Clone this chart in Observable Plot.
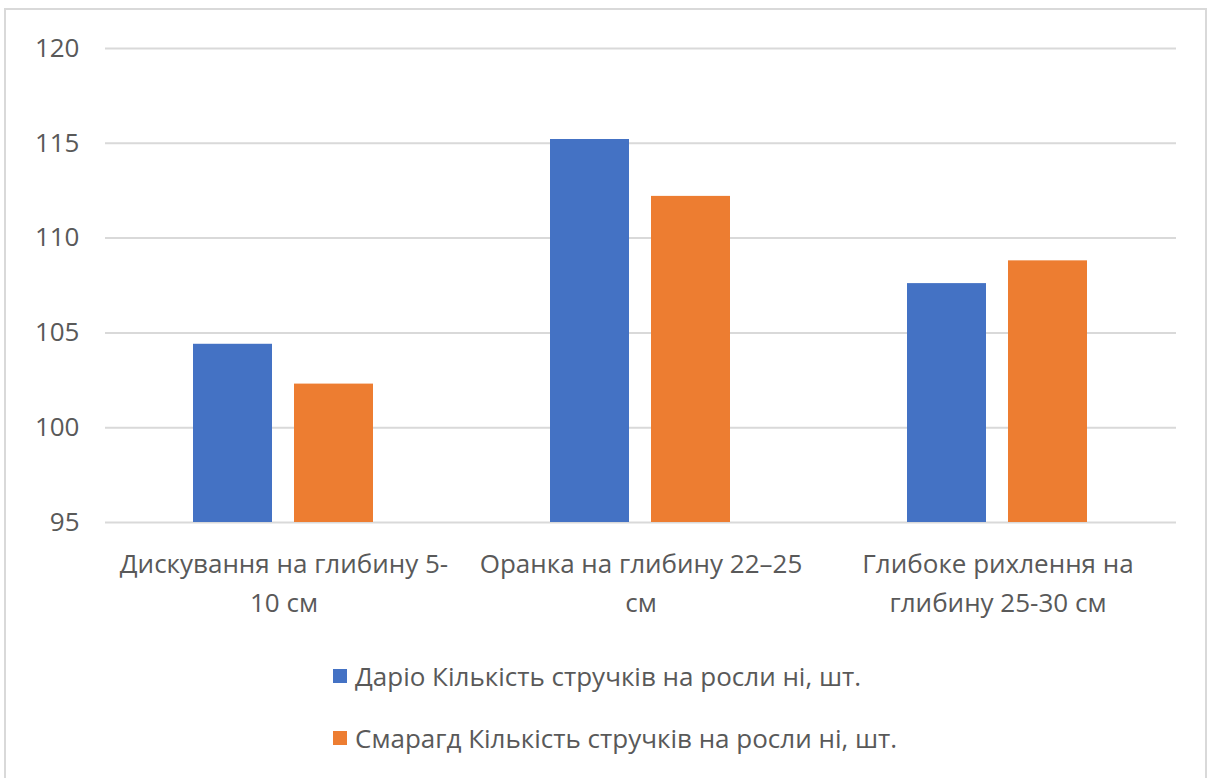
<!DOCTYPE html>
<html>
<head>
<meta charset="utf-8">
<script src="https://cdn.jsdelivr.net/npm/d3@7"></script>
<script src="https://cdn.jsdelivr.net/npm/@observablehq/plot@0.6"></script>
<style>
  html, body { margin: 0; padding: 0; background: #fff; }
  body { width: 1216px; height: 778px; position: relative; overflow: hidden; font-family: "Open Sans", sans-serif; color: #595959; }
  #frame { position: absolute; left: 4px; top: 8px; width: 1203px; height: 780px; border: 2px solid #d9d9d9; box-sizing: border-box; }
  #chart { position: absolute; left: 0; top: 0; }
  #legend { position: absolute; left: 333px; top: 650px; font-size: 26px; }
  .item { display: flex; align-items: center; height: 52px; margin-bottom: 10px; white-space: nowrap; }
  .sw { width: 14px; height: 14px; margin-right: 8px; flex: none; }
</style>
</head>
<body>
<div id="frame"></div>
<div id="chart"></div>
<div id="legend"></div>
<script>
const categories = ["Дискування на глибину 5-10 см", "Оранка на глибину 22–25 см", "Глибоке рихлення на глибину 25-30 см"];
const categoryLabels = ["Дискування на глибину 5-\n10 см", "Оранка на глибину 22–25\nсм", "Глибоке рихлення на\nглибину 25-30 см"];
const seriesNames = ["Даріо Кількість стручків на росли ні, шт.", "Смарагд Кількість стручків на росли ні, шт."];
const dario = [104.4, 115.2, 107.6];
const smaragd = [102.3, 112.2, 108.8];
const yTicks = [95, 100, 105, 110, 115, 120];
const colors = ["#4472C4", "#ED7D31"];

const data = [];
categories.forEach((c, i) => {
  data.push({category: c, series: seriesNames[0], value: dario[i]});
  data.push({category: c, series: seriesNames[1], value: smaragd[i]});
});

const chart = Plot.plot({
  width: 1216,
  height: 640,
  marginTop: 48,
  marginBottom: 118,
  marginLeft: 104,
  marginRight: 40,
  style: {fontFamily: "Open Sans, sans-serif", fontSize: "26px", color: "#595959", background: "transparent"},
  fx: {domain: categories, padding: 0, axis: null},
  x: {domain: seriesNames, paddingInner: 0.2157, paddingOuter: 0.859, axis: null},
  y: {domain: [95, 120], ticks: yTicks, label: null},
  color: {domain: seriesNames, range: colors},
  marks: [
    Plot.ruleY(yTicks, {stroke: "#d9d9d9", strokeWidth: 2}),
    Plot.axisY({ticks: yTicks, tickSize: 0, tickPadding: 26, label: null, fill: "#595959", fontSize: 26}),
    Plot.barY(data, {fx: "category", x: "series", y1: 95, y2: "value", fill: "series"}),
    Plot.text(categories, {fx: d => d, text: (d, i) => categoryLabels[i], frameAnchor: "bottom", lineAnchor: "top", dy: 22, lineHeight: 1.52, fill: "#595959", fontSize: 26})
  ]
});
document.getElementById("chart").appendChild(chart);

const legend = document.getElementById("legend");
seriesNames.forEach((s, i) => {
  const item = document.createElement("div");
  item.className = "item";
  const sw = document.createElement("span");
  sw.className = "sw";
  sw.style.background = colors[i];
  const t = document.createElement("span");
  t.textContent = s;
  item.appendChild(sw);
  item.appendChild(t);
  legend.appendChild(item);
});
</script>
</body>
</html>
